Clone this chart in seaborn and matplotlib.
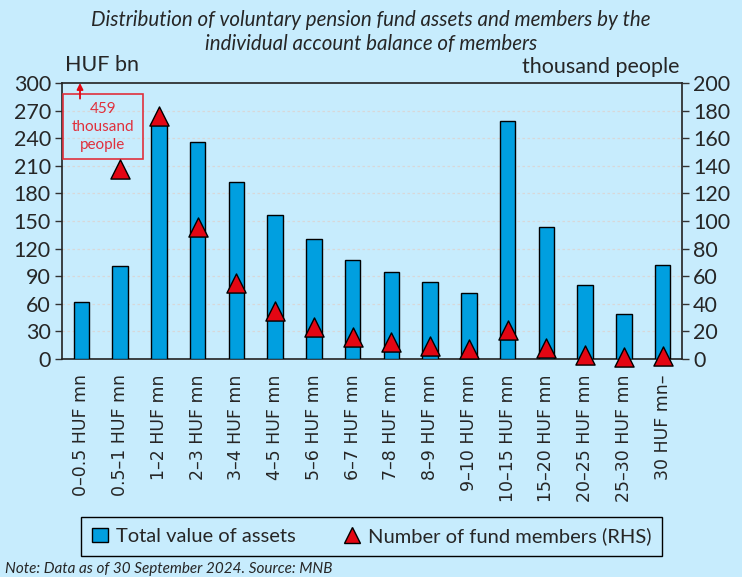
import matplotlib
matplotlib.use("Agg")
import matplotlib.pyplot as plt
import seaborn as sns
import pandas as pd
from matplotlib.patches import Patch, Rectangle
from matplotlib.lines import Line2D

categories = ["0–0.5 HUF mn", "0.5–1 HUF mn", "1–2 HUF mn", "2–3 HUF mn", "3–4 HUF mn",
              "4–5 HUF mn", "5–6 HUF mn", "6–7 HUF mn", "7–8 HUF mn", "8–9 HUF mn",
              "9–10 HUF mn", "10–15 HUF mn", "15–20 HUF mn", "20–25 HUF mn",
              "25–30 HUF mn", "30 HUF mn–"]
assets = [62, 101, 256, 236, 192, 157, 130, 108, 95, 84, 72, 259, 143, 80, 49, 102]
members = [459, 138, 176, 96, 55, 35, 23, 16, 12, 9.5, 7, 21, 7.7, 3, 1.4, 2.2]
left_ticks = list(range(0, 301, 30))
right_ticks = list(range(0, 201, 20))

BG = "#C7ECFD"
BAR = "#009FE0"
RED = "#E30613"
ANN = "#E0303C"

sns.set_theme(style="white")
plt.rcParams["font.family"] = ["Lato", "DejaVu Sans"]

df = pd.DataFrame({"cat": categories, "assets": assets, "members": members})

fig = plt.figure(figsize=(7.42, 5.77), dpi=100, facecolor=BG)
ax = fig.add_axes([62/742, 1-359/577, (682-62)/742, (359-83)/577])
ax.set_facecolor(BG)

sns.barplot(data=df, x="cat", y="assets", color=BAR, edgecolor="black", linewidth=1,
            width=0.4, saturation=1, ax=ax, zorder=3)
ax.set_xlim(-0.5, len(categories) - 0.5)
ax.set_ylim(0, 300)
ax.set_yticks(left_ticks)
ax.set_yticklabels([str(t) for t in left_ticks], fontsize=15.5)
ax.set_xlabel("")
ax.set_ylabel("")

# x ticks at boundaries, labels at centers
ax.set_xticks([i - 0.5 for i in range(len(categories) + 1)])
ax.set_xticklabels([])
ax.set_xticks(range(len(categories)), minor=True)
ax.set_xticklabels(categories, minor=True, rotation=90, fontsize=12.5,
                   family="DejaVu Sans", va="top")
ax.tick_params(axis="x", which="major", direction="out", length=6, width=1, color="#333333")
ax.tick_params(axis="x", which="minor", length=0, pad=11)
ax.tick_params(axis="y", direction="out", length=5, width=1, color="#333333", pad=3, left=True)

for t in left_ticks[1:-1]:
    ax.axhline(t, color="#D8D8D8", lw=0.9, ls=(0, (2, 2)), zorder=1)

for s in ax.spines.values():
    s.set_visible(True)
    s.set_color("#222222")
    s.set_linewidth(1.2)

ax2 = ax.twinx()
sns.scatterplot(data=df, x="cat", y="members", marker="^", s=190, color=RED,
                edgecolor="black", linewidth=1, ax=ax2, zorder=5, legend=False)
for c in ax2.collections:
    c.set_clip_on(False)
ax2.set_ylim(0, 200)
ax2.set_yticks(right_ticks)
ax2.set_yticklabels([str(t) for t in right_ticks], fontsize=15.5)
ax2.set_ylabel("")
ax2.tick_params(axis="y", direction="out", length=5, width=1, color="#333333", pad=3, right=True)
ax2.grid(False)
for s in ax2.spines.values():
    s.set_visible(False)
ax.set_zorder(1)
ax2.set_zorder(2)
ax2.patch.set_visible(False)

# annotation box for off-scale value
ax.add_patch(Rectangle((-0.474, 217.4), 2.064, 70.6, fill=False, edgecolor=ANN,
                       linewidth=1.2, zorder=6, clip_on=False))
ax.text(0.558, 252, "459\nthousand\npeople", color=ANN, fontsize=11, ha="center",
        va="center", linespacing=1.35, zorder=7)
ax.annotate("", xy=(-0.035, 300), xytext=(-0.035, 283),
            arrowprops=dict(arrowstyle="-|>", color=RED, lw=1.3, mutation_scale=9,
                            shrinkA=0, shrinkB=0),
            annotation_clip=False, zorder=7)

fig.text(0.5, 1-32.5/577, "Distribution of voluntary pension fund assets and members by the\n"
         "individual account balance of members", ha="center", va="center",
         fontsize=14.8, style="italic", linespacing=1.25)
fig.text(65/742, 1-65/577, "HUF bn", ha="left", va="center", fontsize=15.5)
fig.text(680/742, 1-67/577, "thousand people", ha="right", va="center", fontsize=15.5)

handles = [Patch(facecolor=BAR, edgecolor="black", linewidth=1),
           Line2D([], [], marker="^", color="none", markerfacecolor=RED,
                  markeredgecolor="black", markersize=11)]
leg = fig.legend(handles, ["Total value of assets", "Number of fund members (RHS)"],
                 loc="center", bbox_to_anchor=(0.5007, 1-536.5/577), ncol=2, frameon=True,
                 fancybox=False, fontsize=14.5, handlelength=0.8, handletextpad=0.4,
                 columnspacing=2.4, borderpad=0.5, edgecolor="black",
                 facecolor=BG, framealpha=1)
leg.get_frame().set_linewidth(1)

fig.text(5/742, 1-569/577, "Note: Data as of 30 September 2024. Source: MNB", ha="left",
         va="center", fontsize=11, style="italic")

fig.savefig("out.png", dpi=100, facecolor=BG)
